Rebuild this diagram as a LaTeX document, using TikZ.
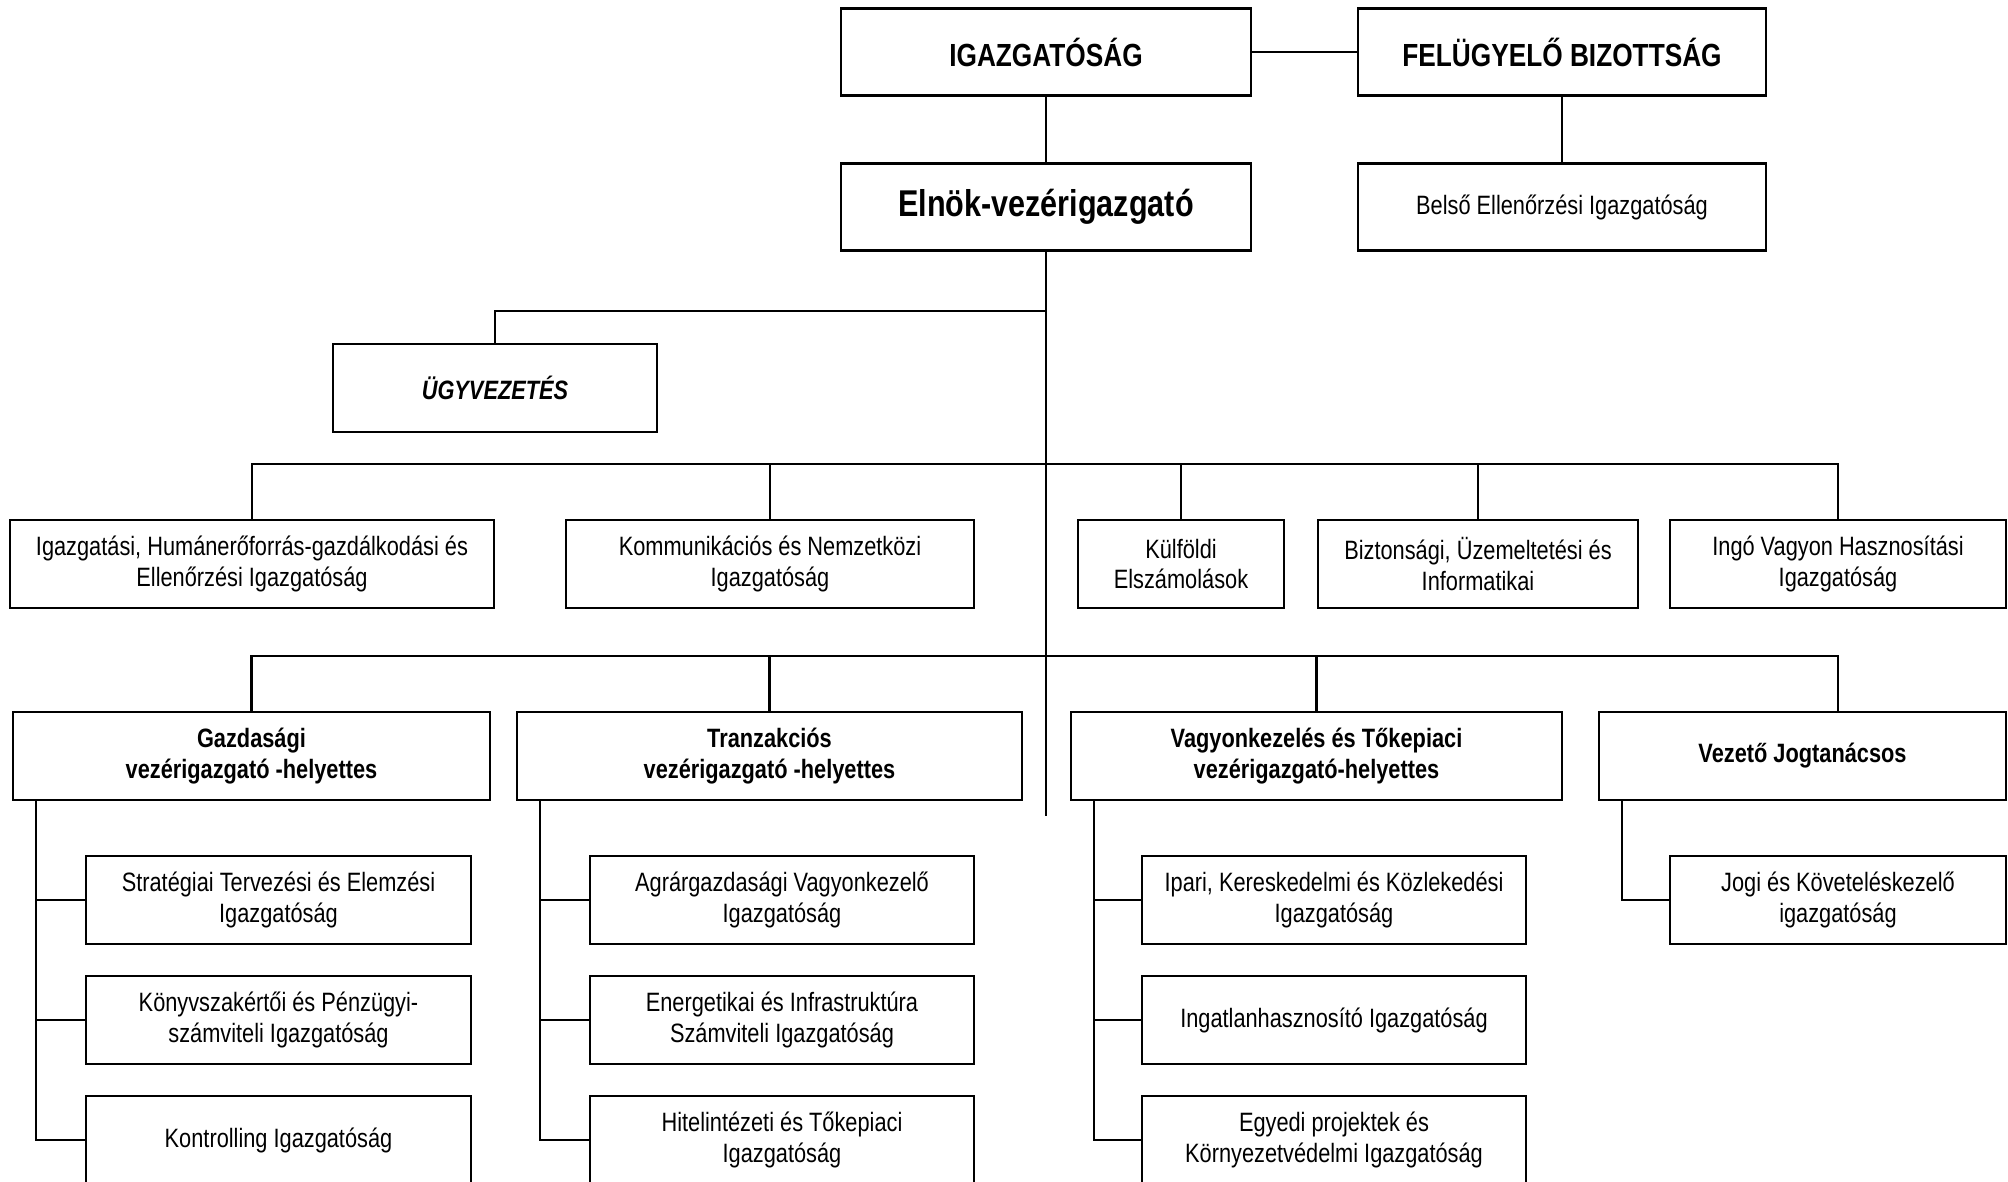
\documentclass[tikz,border=0pt]{standalone}
\usepackage{fontspec}
\setmainfont[FakeStretch=0.82]{Liberation Sans}
\usepackage{tikz}

\begin{document}
\begin{tikzpicture}[x=0.01cm, y=-0.01cm, line width=0.6pt,
    unit/.style={draw, align=center, inner sep=0pt, minimum height=0.88cm,
      font=\fontsize{7.55}{8.7}\selectfont},
    head/.style={unit, font=\fontsize{7.55}{8.7}\selectfont\bfseries},
    board/.style={unit, minimum height=0.87cm, font=\fontsize{9.1}{10.5}\selectfont\bfseries}]
             \clip (0,0) rectangle (2008,1181);

             \node[board, minimum width=4.09cm] (igaz) at (1046, 52) {IGAZGATÓSÁG};
             \node[board, minimum width=4.07cm] (felugy) at (1562, 52) {FELÜGYELŐ BIZOTTSÁG};
             \node[board, minimum width=4.09cm, font=\fontsize{10.6}{12}\selectfont\bfseries] (elnok) at (1046, 207) {Elnök-vezérigazgató};
             \node[unit, minimum width=4.07cm, minimum height=0.87cm] (belso) at (1562, 207) {Belső Ellenőrzési Igazgatóság};
             \draw (igaz.east) -- (felugy.west);
             \draw (igaz.south) -- (elnok.north);
             \draw (felugy.south) -- (belso.north);

             \coordinate (trunkend) at (1046, 816);
             \coordinate (bus0) at (1046, 311);
             \coordinate (bus1) at (1046, 464);
             \coordinate (bus2) at (1046, 656);
             \draw (elnok.south) -- (trunkend);

             \node[head, minimum width=3.23cm, font=\fontsize{7.55}{8.7}\selectfont\bfseries\itshape] (ugy) at (495, 388) {ÜGYVEZETÉS};
             \draw (bus0) -| (ugy.north);

             \node[unit, minimum width=4.84cm] (igazg) at (252, 564) {Igazgatási, Humánerőforrás-gazdálkodási és\\Ellenőrzési Igazgatóság};
             \node[unit, minimum width=4.08cm] (komm) at (770, 564) {Kommunikációs és Nemzetközi\\Igazgatóság};
             \node[unit, minimum width=2.06cm] (kulf) at (1181, 564) {Külföldi\\Elszámolások};
             \node[unit, minimum width=3.20cm] (bizt) at (1478, 564) {Biztonsági, Üzemeltetési és\\Informatikai};
             \node[unit, minimum width=3.36cm] (ingo) at (1838, 564) {Ingó Vagyon Hasznosítási\\Igazgatóság};
             \draw (igazg.north) |- (ingo.north |- bus1) -- (ingo.north);
             \foreach \n in {komm, kulf, bizt}
               \draw (\n.north) -- (\n.north |- bus1);

             \node[head, minimum width=4.77cm] (gazd) at (251.5, 756) {Gazdasági\\vezérigazgató -helyettes};
             \node[head, minimum width=5.05cm] (tranz) at (769.5, 756) {Tranzakciós\\vezérigazgató -helyettes};
             \node[head, minimum width=4.91cm] (vagy) at (1316.5, 756) {Vagyonkezelés és Tőkepiaci\\vezérigazgató-helyettes};
             \node[head, minimum width=4.07cm] (vezeto) at (1802.5, 756) {Vezető Jogtanácsos};
             \draw (gazd.north) |- (ingo.north |- bus2) -- (ingo.north |- vezeto.north);
             \foreach \n in {tranz, vagy}
               \draw (\n.north) -- (\n.north |- bus2);

             \node[unit, minimum width=3.85cm, minimum height=0.885cm] (gazd1) at (278.5, 900) {Stratégiai Tervezési és Elemzési\\Igazgatóság};
             \node[unit, minimum width=3.85cm, minimum height=0.885cm] (gazd2) at (278.5, 1020) {Könyvszakértői és Pénzügyi-\\számviteli Igazgatóság};
             \node[unit, minimum width=3.85cm, minimum height=0.885cm] (gazd3) at (278.5, 1140) {Kontrolling Igazgatóság};

             \node[unit, minimum width=3.84cm, minimum height=0.885cm] (tranz1) at (782, 900) {Agrárgazdasági Vagyonkezelő\\Igazgatóság};
             \node[unit, minimum width=3.84cm, minimum height=0.885cm] (tranz2) at (782, 1020) {Energetikai és Infrastruktúra\\Számviteli Igazgatóság};
             \node[unit, minimum width=3.84cm, minimum height=0.885cm] (tranz3) at (782, 1140) {Hitelintézeti és Tőkepiaci\\Igazgatóság};

             \node[unit, minimum width=3.84cm, minimum height=0.885cm] (vagy1) at (1334, 900) {Ipari, Kereskedelmi és Közlekedési\\Igazgatóság};
             \node[unit, minimum width=3.84cm, minimum height=0.885cm] (vagy2) at (1334, 1020) {Ingatlanhasznosító Igazgatóság};
             \node[unit, minimum width=3.84cm, minimum height=0.885cm] (vagy3) at (1334, 1140) {Egyedi projektek és\\Környezetvédelmi Igazgatóság};

             \node[unit, minimum width=3.36cm, minimum height=0.885cm] (vezeto1) at (1838, 900) {Jogi és Követeléskezelő\\igazgatóság};

             \foreach \n in {gazd, tranz, vagy} {
               \coordinate (\n-line) at ([xshift=0.245cm]\n.south west);
               \draw (\n-line) |- (\n3.west);
               \foreach \i in {1, 2}
                 \draw (\n\i.west) -- (\n\i.west -| \n-line);
             }
             \coordinate (vezeto-line) at ([xshift=0.245cm]vezeto.south west);
             \draw (vezeto-line) |- (vezeto1.west);

             \end{tikzpicture}
\end{document}
